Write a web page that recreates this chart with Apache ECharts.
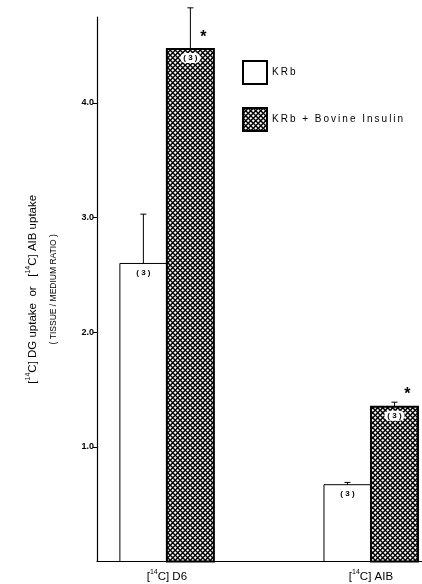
<!DOCTYPE html>
<html>
<head>
<meta charset="utf-8">
<style>
  html, body { margin: 0; padding: 0; background: #fff; }
  #chart { width: 422px; height: 584px; }
</style>
<script src="https://cdn.jsdelivr.net/npm/echarts@6/dist/echarts.min.js"></script>
</head>
<body>
<div id="chart"></div>
<script>
// values (tissue / medium ratio)
var groups = ['[14C] D6', '[14C] AIB'];
var seriesNames = ['KRb', 'KRb + Bovine Insulin'];
var krbMean = [2.60, 0.67];
var krbErr = [0.43, 0.02];
var insMean = [4.47, 1.35];
var insErr = [0.36, 0.04];
var krbN = ['( 3 )', '( 3 )'];
var insN = ['( 3 )', '( 3 )'];
var insStar = ['*', '*'];
var yTicks = [1, 2, 3, 4];

// layout
var groupPos = [2.15, 8.43];
var barW = 47;
var font = 'Liberation Sans, Arial, sans-serif';

function hatch() {
    var s = 5.5;
    var c = document.createElement('canvas');
    c.width = s; c.height = s;
    var ctx = c.getContext('2d');
    ctx.fillStyle = '#fff';
    ctx.fillRect(0, 0, s, s);
    ctx.strokeStyle = '#000';
    ctx.lineWidth = 1.5;
    ctx.beginPath();
    ctx.moveTo(0, 0); ctx.lineTo(s, s);
    ctx.moveTo(s, 0); ctx.lineTo(0, s);
    ctx.stroke();
    return c;
}

var hatchFill = { image: hatch(), repeat: 'repeat' };

var supStyle = { fontSize: 7, lineHeight: 7, padding: [0, 0, 8, 0] };

function supLabel(t) {
    return t.replace('14C', '{sup|14}C');
}

function barRenderer(side, fill, lw, textBg) {
    return function (params, api) {
        var gx = groupPos[api.value(0)];
        var base = api.coord([gx, 0]);
        var top = api.coord([gx, api.value(1)]);
        var eTop = api.coord([gx, api.value(1) + api.value(2)]);
        var x0 = side < 0 ? base[0] - barW : base[0];
        var cx = x0 + barW / 2;
        var kids = [
            {
                type: 'rect',
                shape: { x: x0, y: top[1], width: barW, height: base[1] - top[1] },
                style: { fill: fill, stroke: '#000', lineWidth: lw }
            },
            {
                type: 'line',
                shape: { x1: cx, y1: top[1], x2: cx, y2: eTop[1] },
                style: { stroke: '#000', lineWidth: 1 }
            },
            {
                type: 'line',
                shape: { x1: cx - 3, y1: eTop[1], x2: cx + 3, y2: eTop[1] },
                style: { stroke: '#000', lineWidth: 1 }
            },
            {
                type: 'text',
                x: cx, y: top[1] + 4,
                style: {
                    text: api.value(3), fill: '#000', font: 'bold 8px ' + font,
                    align: 'center', verticalAlign: 'top',
                    backgroundColor: textBg, padding: [1, 3], borderRadius: 5
                }
            }
        ];
        var star = api.value(4);
        if (star && star !== '-') {
            kids.push({
                type: 'text',
                x: cx + 13, y: top[1] - 12,
                style: {
                    text: star, fill: '#000', font: 'bold 16px ' + font,
                    align: 'center', verticalAlign: 'middle'
                }
            });
        }
        return { type: 'group', children: kids };
    };
}

var krbData = groups.map(function (g, i) { return [i, krbMean[i], krbErr[i], krbN[i], '-']; });
var insData = groups.map(function (g, i) { return [i, insMean[i], insErr[i], insN[i], insStar[i]]; });

var chart = echarts.init(document.getElementById('chart'), null, { renderer: 'canvas' });

chart.setOption({
    animation: false,
    backgroundColor: '#fff',
    textStyle: { fontFamily: font },
    grid: { left: 97, right: 0, top: 17, bottom: 22, containLabel: false },
    legend: {
        orient: 'vertical',
        left: 237, top: 55,
        itemWidth: 24, itemHeight: 23, itemGap: 22,
        icon: 'rect',
        data: seriesNames,
        formatter: function (name) { return name.split('').join('\u2009'); },
        textStyle: { fontSize: 10, color: '#000' }
    },
    xAxis: {
        type: 'value', min: 0, max: 10,
        axisLine: { show: true, lineStyle: { color: '#000', width: 1.2 } },
        axisTick: { show: false },
        splitLine: { show: false },
        axisLabel: {
            customValues: groupPos,
            formatter: function (v) {
                var i = groupPos.indexOf(v);
                return i < 0 ? '' : supLabel(groups[i]);
            },
            color: '#000', fontSize: 11.5, margin: 9,
            rich: { sup: supStyle }
        }
    },
    yAxis: {
        type: 'value', min: 0, max: 4.75,
        axisLine: { show: true, lineStyle: { color: '#000', width: 1.2 } },
        axisTick: { show: true, customValues: yTicks, length: 4, lineStyle: { color: '#000' } },
        splitLine: { show: false },
        axisLabel: {
            customValues: yTicks,
            formatter: function (v) { return v.toFixed(1); },
            color: '#000', fontSize: 9, fontWeight: 'bold', margin: 3
        },
        name: '[{sup|14}C] DG uptake  or   [{sup|14}C] AIB uptake\n{sub|( TISSUE / MEDIUM RATIO )}',
        nameLocation: 'middle',
        nameGap: 33,
        nameTextStyle: {
            color: '#000', fontSize: 11.5, lineHeight: 21,
            rich: {
                sup: supStyle,
                sub: { fontSize: 8.5, color: '#000' }
            }
        }
    },
    series: [
        {
            name: seriesNames[0], type: 'custom',
            renderItem: barRenderer(-1, '#fff', 1, null),
            itemStyle: { color: '#fff', borderColor: '#000', borderWidth: 1 },
            encode: { x: 0, y: 1 },
            clip: false,
            data: krbData
        },
        {
            name: seriesNames[1], type: 'custom',
            renderItem: barRenderer(1, hatchFill, 2, '#fff'),
            itemStyle: { color: hatchFill, borderColor: '#000', borderWidth: 1.5 },
            encode: { x: 0, y: 1 },
            clip: false,
            data: insData
        }
    ]
});
</script>
</body>
</html>
